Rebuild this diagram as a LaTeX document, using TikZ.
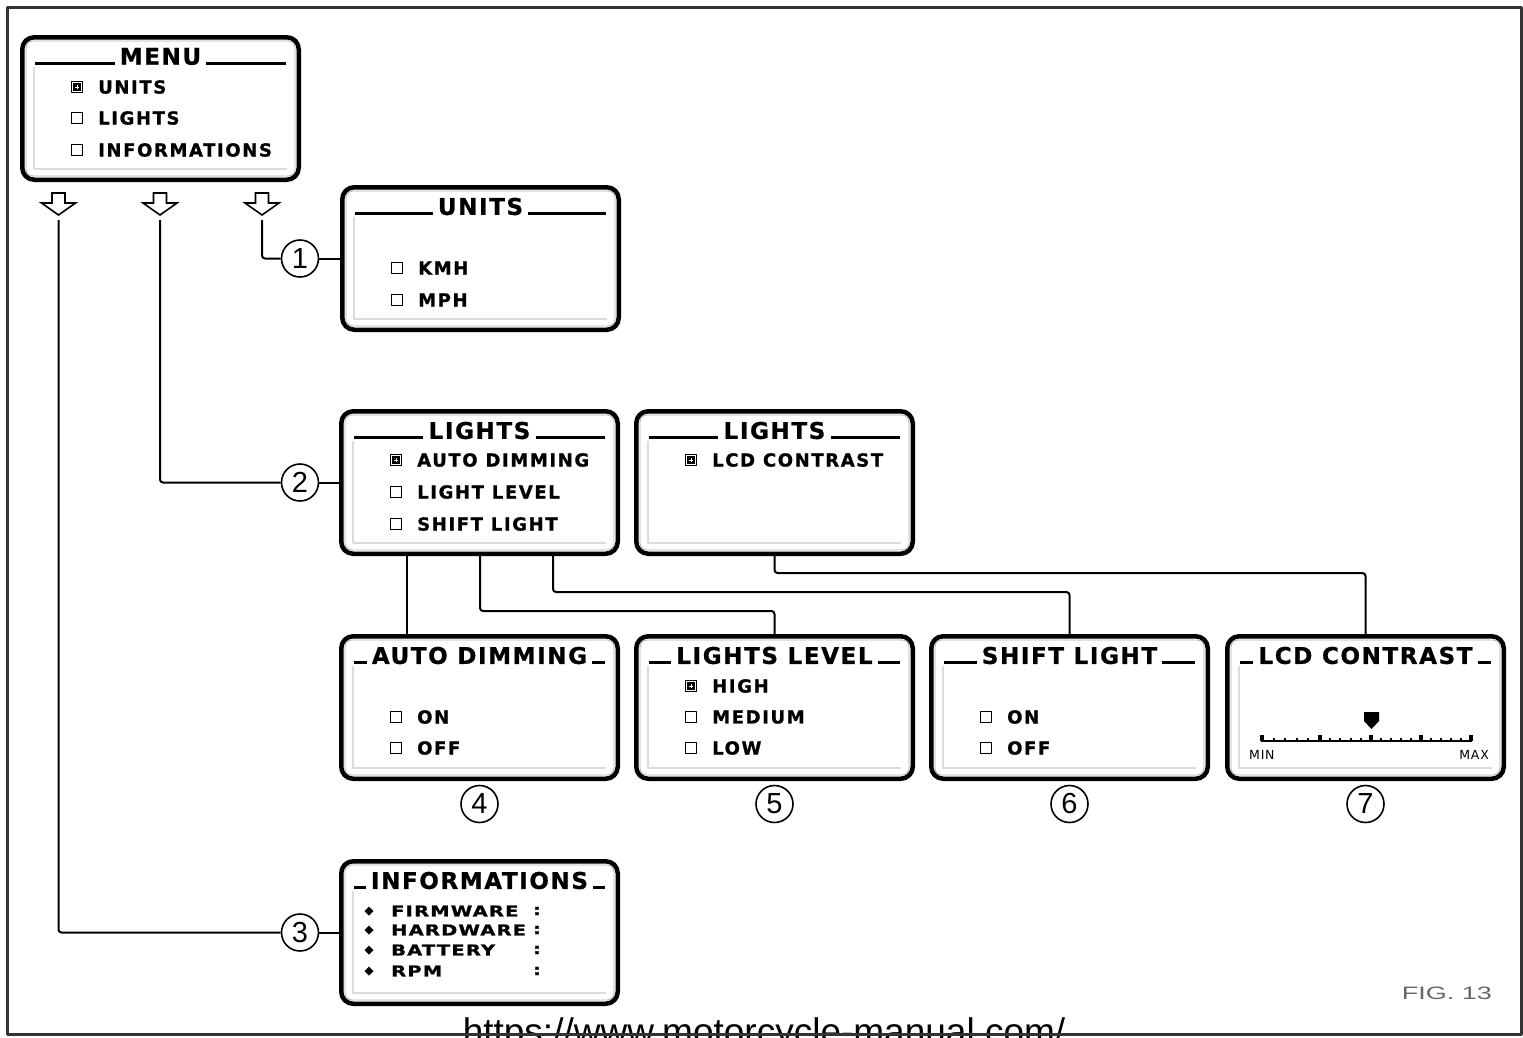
\documentclass[tikz,border=0pt]{standalone}
\usepackage{fontspec}
\setmainfont{Liberation Sans}
\newfontfamily\lcdT{DejaVu Sans}[LetterSpace=7, FakeBold=1]
\newfontfamily\lcdI{DejaVu Sans}[LetterSpace=9, FakeBold=1]
\newfontfamily\lcdS{DejaVu Sans}[LetterSpace=6, FakeBold=1]
\newfontfamily\lcdM{DejaVu Sans}[LetterSpace=6]
\usetikzlibrary{calc}
\tikzset{
 screen/.style={draw, line width=4.5pt, rounded corners=12pt, minimum width=276.5pt, minimum height=142.5pt, inner sep=0pt, fill=white},
 ttl/.style={font=\lcdT\bfseries\fontsize{23}{23}\selectfont, inner sep=0pt},
 ttlline/.style={line width=3pt},
 itm/.style={font=\lcdI\bfseries\fontsize{18}{18}\selectfont, inner sep=0pt, anchor=west},
 inf/.style={font=\lcdS\bfseries\fontsize{15}{15}\selectfont, inner sep=0pt, anchor=west},
 num/.style={circle, draw, line width=1.6pt, minimum size=37pt, inner sep=0pt, font=\fontsize{29}{29}\selectfont},
 conn/.style={line width=2pt, rounded corners=3pt},
 innerline/.style={gray!60, line width=0.8pt, rounded corners=7pt},
 shadeline/.style={gray!28, line width=1.5pt},
 cboxline/.style={line width=1.3pt},
 menuarrow/.style={line width=1.6pt, line join=miter},
 small/.style={font=\lcdM\fontsize{12.5}{12.5}\selectfont, inner sep=0pt},
}
\newcommand\scr[4]{%
 \node[screen] (#1) at ({#2+140.5},{#3+73.5}) {};
 \draw[innerline] ({#2+6},{#3+6}) rectangle ({#2+275},{#3+141});
 \draw[shadeline] ({#2+14},{#3+32}) -- ({#2+14},{#3+134}) -- ({#2+267},{#3+134});
 \node[ttl] (#1-t) at ({#2+140.5},{#3+21.5}) {#4};
 \coordinate (#1-l) at ({#2+15},{#3+28.5});
 \coordinate (#1-r) at ({#2+266},{#3+28.5});
 \draw[ttlline] (#1-l) -- ($(#1-t.west |- #1-l)+(-5,0)$);
 \draw[ttlline] ($(#1-t.east |- #1-r)+(5,0)$) -- (#1-r);
}
\newcommand\chkbox[2]{\draw[cboxline] ({#1-5.5},{#2-5.5}) rectangle ({#1+5.5},{#2+5.5});}
\newcommand\chkboxx[2]{\chkbox{#1}{#2}\fill ({#1-3.8},{#2-3.8}) rectangle ({#1+3.8},{#2+3.8});
 \draw[white,line width=0.9pt] ({#1-2.2},{#2}) -- ({#1+2.2},{#2}) ({#1},{#2-2.2}) -- ({#1},{#2+2.2});}
\newcommand\opt[4]{\chkbox{#2+57}{#3}\node[itm] (#1) at ({#2+78},{#3}) {#4};}
\newcommand\optx[4]{\chkboxx{#2+57}{#3}\node[itm] (#1) at ({#2+78},{#3}) {#4};}
\newcommand\darrow[1]{\draw[menuarrow] ({#1-6.5},193) -- ({#1+6.5},193) -- ({#1+6.5},203) -- ({#1+17},203) -- (#1,215) -- ({#1-17},203) -- ({#1-6.5},203) -- cycle;}
\newcommand\infrow[3]{\fill (369,{#2-4.5}) -- (373.5,#2) -- (369,{#2+4.5}) -- (364.5,#2) -- cycle;
 \node[inf] (#1) at (391,#2) {\scalebox{1.3}[1]{#3}};
 \node[inf, anchor=center] (#1c) at (537,#2) {\scalebox{1.3}[1]{:}};}
\begin{document}
\begin{tikzpicture}[x=1pt, y=-1pt, line join=round]
\useasboundingbox (0,0) rectangle (1523,1037);
\fill[white] (0,0) rectangle (1523,1037);

% URL
\node[font=\fontsize{37}{37}\selectfont, anchor=base, inner sep=0pt] (url) at (764,1044) {https://www.motorcycle-manual.com/};
% frame
\draw[line width=3pt, black!80] (7,7) rectangle (1521,1034);

% screens
\scr{menu}{20}{35}{MENU}
\optx{m1}{20}{87}{UNITS}
\opt{m2}{20}{118}{LIGHTS}
\opt{m3}{20}{150}{INFORMATIONS}

\scr{units}{340}{185}{UNITS}
\opt{u1}{340}{268}{KMH}
\opt{u2}{340}{300}{MPH}

\scr{lights1}{339}{409}{LIGHTS}
\optx{l1}{339}{460}{AUTO DIMMING}
\opt{l2}{339}{492}{LIGHT LEVEL}
\opt{l3}{339}{524}{SHIFT LIGHT}

\scr{lights2}{634}{409}{LIGHTS}
\optx{k1}{634}{460}{LCD CONTRAST}

\scr{autodim}{339}{634}{AUTO DIMMING}
\opt{d1}{339}{717}{ON}
\opt{d2}{339}{748}{OFF}

\scr{lightslevel}{634}{634}{LIGHTS LEVEL}
\optx{v1}{634}{686}{HIGH}
\opt{v2}{634}{717}{MEDIUM}
\opt{v3}{634}{748}{LOW}

\scr{shift}{929}{634}{SHIFT LIGHT}
\opt{s1}{929}{717}{ON}
\opt{s2}{929}{748}{OFF}

\scr{lcd}{1225}{634}{LCD CONTRAST}
\draw[line width=1.5pt] (1261,741) -- (1472,741);
\foreach \x in {1262,1320,1371,1421,1471} \fill ({\x-2},735) rectangle ({\x+2},741);
\foreach \a/\b in {1262/1320,1320/1371,1371/1421,1421/1471}
  \foreach \k in {1,...,4} \fill ({\a+(\b-\a)*\k/5-1},738) rectangle ({\a+(\b-\a)*\k/5+1},741);
\fill (1364,712) -- (1379,712) -- (1379,721) -- (1371.5,729) -- (1364,721) -- cycle;
\node[small, anchor=west] (mn) at (1249,755) {MIN};
\node[small, anchor=east] (mx) at (1489,755) {MAX};

\scr{info}{339}{859}{INFORMATIONS}
\infrow{i1}{911}{FIRMWARE}
\infrow{i2}{930}{HARDWARE}
\infrow{i3}{950}{BATTERY}
\infrow{i4}{971}{RPM}

% menu arrows
\darrow{58.5}
\darrow{160}
\darrow{262}
\coordinate (a1) at (58.5,220);
\coordinate (a2) at (160,220);
\coordinate (a3) at (262,220);

% number circles
\node[num] (n1) at (300,258.5) {1};
\node[num] (n2) at (300,482.5) {2};
\node[num] (n3) at (300,932.5) {3};
\node[num] (n4) at (479.5,804) {4};
\node[num] (n5) at (774.5,804) {5};
\node[num] (n6) at (1069.5,804) {6};
\node[num] (n7) at (1365.5,804) {7};

% connectors
\draw[conn] (a3) |- (n1.west);
\draw[conn] (n1) -- (units);
\draw[conn] (a2) |- (n2.west);
\draw[conn] (n2) -- (lights1);
\draw[conn] (a1) |- (n3.west);
\draw[conn] (n3) -- (info);

\draw[conn] ([xshift=68pt]lights1.south west) -- ([xshift=68pt]autodim.north west);
\draw[conn] ([xshift=141pt]lights1.south west) -- ++(0,55) -| (lightslevel.north);
\draw[conn] ([xshift=214pt]lights1.south west) -- ++(0,36) -| (shift.north);
\draw[conn] (lights2.south) -- ++(0,17) -| (lcd.north);

% figure label
\node[font=\fontsize{18}{18}\selectfont, text=black!60, anchor=east, inner sep=0pt] (fig) at (1492,993) {\scalebox{1.5}[1]{FIG. 13}};
\end{tikzpicture}
\end{document}
